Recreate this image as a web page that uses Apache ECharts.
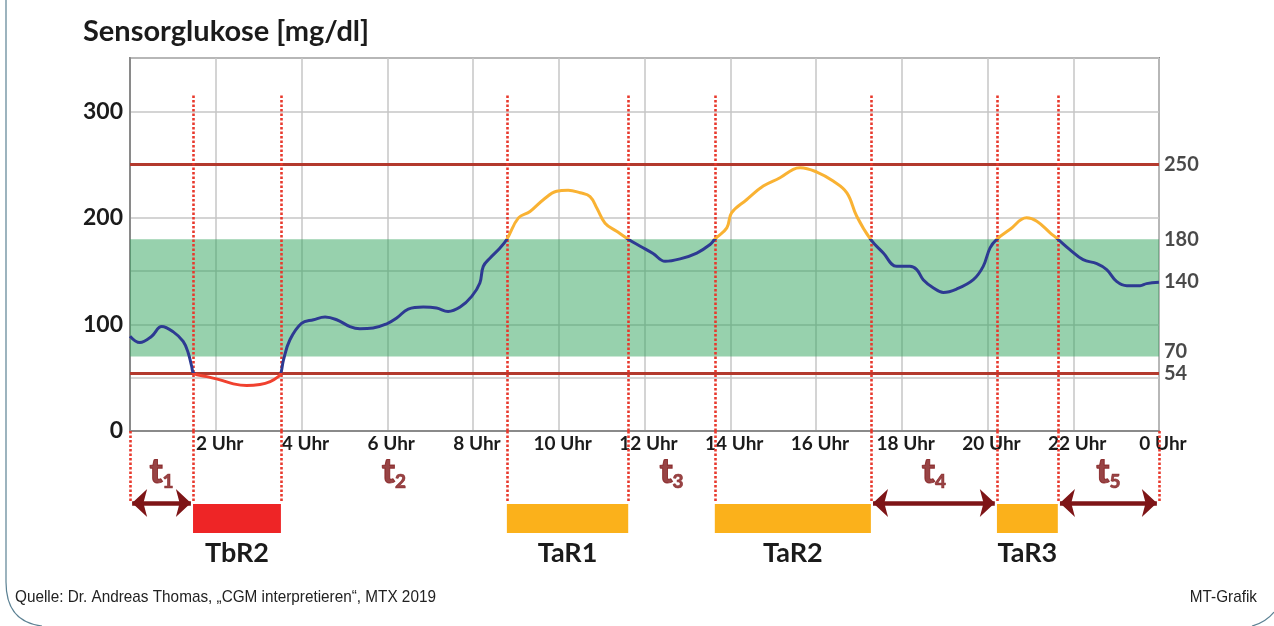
<!DOCTYPE html>
<html><head><meta charset="utf-8">
<script src="https://cdn.jsdelivr.net/npm/echarts@6/dist/echarts.min.js"></script>
<style>html,body{margin:0;padding:0;background:#fff}#c{width:1274px;height:626px}</style>
</head><body><div id="c"></div>
<script>
// ---- data ----
const hours = [0,0.23,0.5,0.74,1.01,1.24,1.36,1.44,1.49,
  1.79,2.1,2.41,2.72,3.03,3.27,3.46,3.52,
  3.58,3.73,4.0,4.28,4.55,4.82,5.13,5.36,5.67,5.99,6.22,6.49,6.84,7.15,7.42,7.7,7.97,8.16,8.24,8.4,8.63,8.79,
  9.06,9.33,9.64,9.95,10.22,10.5,10.73,10.89,11.08,11.35,11.62,
  11.9,12.2,12.48,12.83,13.22,13.53,13.64,
  13.92,14.03,14.38,14.77,15.16,15.47,15.63,16.02,16.4,16.72,16.95,17.27,
  17.57,17.88,18.19,18.35,18.5,18.74,18.97,19.28,19.67,19.9,20.06,20.22,
  20.52,20.91,21.15,21.46,21.64,
  21.92,22.23,22.55,22.78,23.01,23.25,23.56,23.71,24];
const glucose = [89,83,88.7,98,93,84,73,60.5,54,
  51,48,44.2,42.6,43.6,46.4,51,54.5,
  66.8,85.6,101,104.4,107,104.4,98,96,96.6,100.6,106,114.4,116.3,115.4,112.2,116.3,126.3,138.9,154.5,162.4,171.8,180,
  200,206,217,225,226,223.5,220,209,195,187.4,180,
  173.4,166.5,159.2,161.5,167,175,180,
  190.6,204.7,217,229.8,237.6,245.5,247,243,234.5,223.5,201.5,180,
  167,154.5,154.5,151.4,142,134.2,130,133.2,142,154.5,171.8,180,
  189,200,196.8,186,180,
  170.2,160.8,157,151.4,140.4,136.4,136.4,138.3,139.5];
const leftTickLabels = [0,100,200,300];
const rightLabelValues = [250,180,140,70,54];
const limitLines = [250,54];
const targetRange = [70,180];
const boundaries = [0,1.47,3.52,8.79,11.62,13.64,17.28,20.22,21.64,24];
const barNames = ['TbR2','TaR1','TaR2','TaR3'];
const barFrom = [1.47,8.79,13.64,20.22];
const barTo = [3.52,11.62,17.28,21.64];
const barKind = ['low','high','high','high'];
const tIndex = ['1','2','3','4','5'];
const tFrom = [0,3.52,11.62,17.28,21.64];
const tTo = [1.47,8.79,13.64,20.22,24];
const tArrow = [true,false,false,true,true];

// ---- styles ----
const C = {blue:'#2d3a92', orange:'#f9b233', red:'#f0412f', barRed:'#ee2526', barOrange:'#fbb11b',
  dark:'#7e1517', limit:'#b3392d', dot:'#e8392c', grid:'#c6c6c6', frame:'#8a8a8a'};
const F = 'Lato, "Open Sans", sans-serif';
const FOOT = '"Liberation Sans Narrow", "Liberation Sans", sans-serif';

const chart = echarts.init(document.getElementById('c'));
const curve = hours.map((h,i)=>[h, glucose[i]]);

const inner = boundaries.filter(b => b > 0 && b < 24);
const dottedTop = 316; // top of dotted lines in chart units

const arrowIdx = tIndex.map((t,i)=>i).filter(i=>tArrow[i]);

const option = {
  animation:false,
  backgroundColor:'#fff',
  title:{text:'Sensorglukose [mg/dl]', left:78, top:12,
    textStyle:{fontFamily:F, fontSize:29, fontWeight:'bold', color:'#1b1b1b'}},
  grid:[
    {left:130, right:115, top:58, height:373, show:true, borderColor:C.frame, borderWidth:2, backgroundColor:'transparent'},
    {left:130, right:115, top:431, height:140, show:false}
  ],
  xAxis:[
    {type:'value', gridIndex:0, min:0, max:24, interval:2,
      axisLine:{lineStyle:{color:C.frame, width:2}}, axisTick:{show:false},
      axisLabel:{fontFamily:F, fontWeight:'bold', fontSize:19, color:'#1b1b1b', margin:3, padding:[0,0,0,8],
        formatter:v => v === 0 ? '' : ((v % 24) + ' Uhr')},
      splitLine:{show:true, lineStyle:{color:C.grid, width:1.5}}},
    {type:'value', gridIndex:1, min:0, max:24, show:false}
  ],
  yAxis:[
    {type:'value', gridIndex:0, min:0, max:350, interval:50,
      axisLine:{show:true, lineStyle:{color:C.frame, width:2}}, axisTick:{show:false},
      axisLabel:{fontFamily:F, fontWeight:'bold', fontSize:23, color:'#1b1b1b', margin:7,
        formatter:v => leftTickLabels.includes(v) ? String(v) : ''},
      splitLine:{show:true, lineStyle:{color:C.grid, width:1.5}}},
    {type:'value', gridIndex:1, min:0, max:140, inverse:true, show:false}
  ],
  visualMap:{show:false, type:'piecewise', seriesIndex:0, dimension:1,
    pieces:[{lt:54, color:C.red},{gte:54, lte:180, color:C.blue},{gt:180, color:C.orange}]},
  series:[
    {type:'line', xAxisIndex:0, yAxisIndex:0, data:curve, smooth:0.4,
      showSymbol:false, lineStyle:{width:3}, z:5,
      markArea:{silent:true, itemStyle:{color:'rgba(47,163,91,0.5)'},
        data:[[{yAxis:targetRange[0]},{yAxis:targetRange[1]}]]}},
    {type:'line', xAxisIndex:0, yAxisIndex:0, data:[], z:3,
      markLine:{silent:true, symbol:'none', label:{show:false},
        lineStyle:{color:C.limit, width:3, type:'solid'},
        data:limitLines.map(v=>({yAxis:v}))}},
    {type:'line', xAxisIndex:0, yAxisIndex:0, data:[], z:6,
      markLine:{silent:true, symbol:'none', label:{show:false},
        lineStyle:{color:C.dot, width:2.6, type:[2.5,2]},
        data:inner.map(b=>[{coord:[b,0]},{coord:[b,dottedTop]}])}},
    {type:'scatter', xAxisIndex:0, yAxisIndex:0, symbolSize:0, silent:true,
      data:rightLabelValues.map(v=>({value:[24,v], label: v===70 ? {offset:[0,-5]} : {}})),
      label:{show:true, position:'right', distance:5, fontFamily:F, fontWeight:'bold', fontSize:20, color:'#1b1b1b',
        formatter:p => String(p.value[1])}},
    // lower annotation strip
    {type:'line', xAxisIndex:1, yAxisIndex:1, data:[], silent:true,
      markLine:{silent:true, symbol:'none', label:{show:false},
        lineStyle:{color:C.dot, width:2.6, type:[2.5,2]},
        data:boundaries.map(b=>[{coord:[b,0]},{coord:[b,72]}])},
      markArea:{silent:true,
        label:{show:true, position:'bottom', distance:7, fontFamily:F, fontWeight:'bold', fontSize:27, color:'#1b1b1b'},
        data:barNames.map((n,i)=>[
          {name:n, xAxis:barFrom[i], yAxis:73, itemStyle:{color: barKind[i]==='low' ? C.barRed : C.barOrange}},
          {xAxis:barTo[i], yAxis:102}])}},
    {type:'line', xAxisIndex:1, yAxisIndex:1, data:[], silent:true, z:4,
      markLine:{silent:true, symbol:['arrow','arrow'], symbolSize:[21,15], label:{show:false},
        lineStyle:{color:C.dark, width:4.5, type:'solid'},
        data:arrowIdx.map(i=>[{coord:[tFrom[i]+0.05,72]},{coord:[tTo[i]-0.05,72]}])}},
    {type:'scatter', xAxisIndex:1, yAxisIndex:1, symbolSize:0, silent:true,
      data:tIndex.map((t,i)=>({value:[(tFrom[i]+tTo[i])/2, 41], name:t})),
      label:{show:true, position:'inside',
        formatter:p => '{t|t}{s|' + p.name + '}',
        rich:{t:{fontFamily:F, fontWeight:900, fontSize:35, color:C.dark, lineHeight:38, textBorderColor:C.dark, textBorderWidth:1},
              s:{fontFamily:F, fontWeight:900, fontSize:19, color:C.dark, lineHeight:38, verticalAlign:'bottom', textBorderColor:C.dark, textBorderWidth:0.6}}}}
  ],
  graphic:[
    {type:'line', shape:{x1:6,y1:0,x2:6,y2:582}, style:{stroke:'#5b8193', lineWidth:1.2}},
    {type:'bezierCurve', shape:{x1:6,y1:582,x2:42,y2:626,cpx1:6,cpy1:622}, style:{fill:null, stroke:'#5b8193', lineWidth:1.2}},
    {type:'bezierCurve', shape:{x1:1252,y1:626,x2:1274,y2:612,cpx1:1266,cpy1:622}, style:{fill:null, stroke:'#5b8193', lineWidth:1.2}},
    {type:'text', x:15, y:589, scaleX:0.9, style:{text:'Quelle: Dr. Andreas Thomas, \u201eCGM interpretieren\u201c, MTX 2019',
      font:'17px ' + FOOT, fill:'#222'}},
    {type:'text', x:1257, y:589, scaleX:0.9, style:{text:'MT-Grafik', align:'right',
      font:'17px ' + FOOT, fill:'#222'}}
  ]
};
chart.setOption(option);
</script>
</body></html>
